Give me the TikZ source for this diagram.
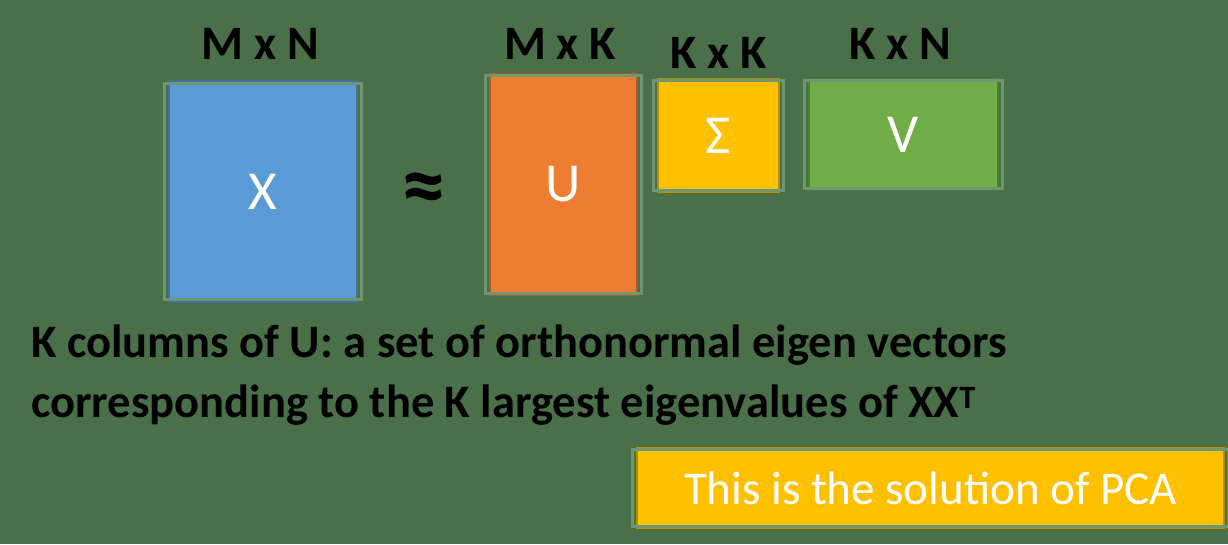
\documentclass[tikz,border=0pt]{standalone}
\usepackage{fontspec}
\setmainfont{Carlito}
\definecolor{bg}{HTML}{4A7049}
\definecolor{halo}{HTML}{6E9670}
\definecolor{xblue}{HTML}{5B9BD5}
\definecolor{xblueb}{HTML}{41719C}
\definecolor{uor}{HTML}{ED7D31}
\definecolor{uorb}{HTML}{AE5A21}
\definecolor{syel}{HTML}{FFC000}
\definecolor{syelb}{HTML}{BC8C00}
\definecolor{vgr}{HTML}{70AD47}
\definecolor{vgrb}{HTML}{507E32}
\tikzset{
  mat/.style={rectangle, line width=2.5pt, text=white, inner sep=0pt,
    font=\fontsize{55}{60}\selectfont},
  dimlab/.style={text=black, font=\bfseries\fontsize{48}{52}\selectfont, inner sep=0pt},
  halo/.style={draw=halo, line width=3pt},
  note/.style={text=black, font=\bfseries\fontsize{46.5}{60}\selectfont, align=left, inner sep=0pt},
}
\begin{document}
\begin{tikzpicture}[x=1pt,y=-1pt]
\useasboundingbox (0,0) rectangle (1228,544);
\fill[bg] (0,0) rectangle (1228,544);

\node[mat, fill=xblue, draw=xblueb, minimum width=188pt, minimum height=220pt] (X) at (263,191.5) {X};
\node[mat, fill=uor, draw=uorb, minimum width=147pt, minimum height=221pt] (U) at (563.5,184.5) {U};
\node[mat, fill=syel, draw=syelb, minimum width=121pt, minimum height=113pt] (S) at (718.5,135.5) {Σ};
\node[mat, fill=vgr, draw=vgrb, minimum width=189pt, minimum height=111pt] (V) at (903.5,134.5) {V};

\draw[halo] ([shift={(-3,3)}]X.north west) rectangle ([shift={(3,-3)}]X.south east);
\draw[halo] ([shift={(-3,3)}]U.north west) rectangle ([shift={(3,-3)}]U.south east);
\draw[halo] ([shift={(-3,3)}]S.north west) rectangle ([shift={(3,-3)}]S.south east);
\draw[halo] ([shift={(-3,3)}]V.north west) rectangle ([shift={(3,-3)}]V.south east);

\node[dimlab] (lx) at (260,44) {M x N};
\node[dimlab] (lu) at (560,44) {M x K};
\node[dimlab] (ls) at (719,53) {K x K};
\node[dimlab] (lv) at (900,44) {K x N};
\node[dimlab, font=\bfseries\fontsize{90}{90}\selectfont] (approx) at (424,194) {≈};

\node[note, anchor=north west] (note) at (31,325) {K columns of U: a set of orthonormal eigen vectors\\corresponding to the K largest eigenvalues of XX\textsuperscript{T}};

\node[mat, fill=syel, draw=syelb, minimum width=587pt, minimum height=80pt, font=\fontsize{47}{52}\selectfont] (pca) at (930.5,488) {This is the solution of PCA};
\draw[halo] ([shift={(-3,3)}]pca.north west) rectangle ([shift={(3,-3)}]pca.south east);
\end{tikzpicture}
\end{document}
